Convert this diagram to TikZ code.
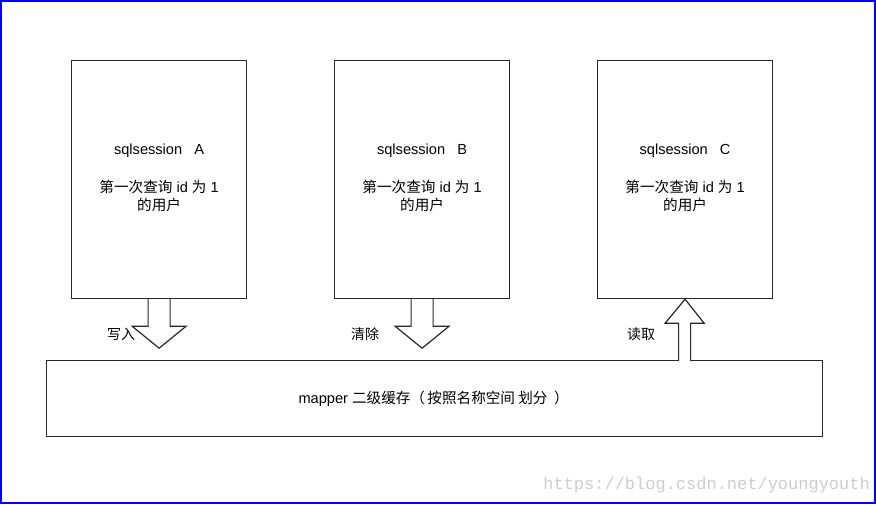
\documentclass[tikz,border=0pt]{standalone}
\usepackage{fontspec}
\setmainfont{Liberation Sans}
\setmonofont{Liberation Mono}
\newfontfamily\cjk{Noto Sans CJK SC}
\usetikzlibrary{calc}
\definecolor{boxline}{RGB}{40,40,40}
\definecolor{frameblue}{RGB}{0,0,255}
\definecolor{wm}{RGB}{205,205,205}
\tikzset{
  sess/.style={draw=boxline, line width=1.2pt, minimum width=175pt, minimum height=238pt, inner sep=0pt, anchor=north west},
  cache/.style={draw=boxline, line width=1.2pt, minimum width=776pt, minimum height=76pt, inner sep=0pt, anchor=north west},
  blk/.style={draw=boxline, line width=1.2pt, fill=white, line join=miter},
  lbl/.style={font=\fontsize{14}{16}\selectfont\cjk, inner sep=0pt},
  txt/.style={font=\fontsize{14.6}{18}\selectfont, align=center, inner sep=0pt}
}
\begin{document}
\begin{tikzpicture}[x=1pt,y=-1pt]
\useasboundingbox (0,0) rectangle (876,504);
\draw[frameblue, line width=2pt] (1,1) rectangle (875,503);
% session boxes
\node[sess] (A) at (71,60) {};
\node[sess] (B) at (334,60) {};
\node[sess] (C) at (597,60) {};
\node[cache] (M) at (46,360) {};
% texts
\foreach \n/\l in {A/A,B/B,C/C}{
  \node[txt] (\n t1) at ($(\n.north)+(0,91)$) {sqlsession\ \ \ \l};
  \node[txt] (\n t2) at ($(\n.north)+(0,136)$) {{\cjk 第一次查询} id {\cjk 为} 1\\{\cjk 的用户}};
}
\node[txt] (Mt) at ($(M.center)+(-1,0)$) {mapper {\cjk 二级缓存（\,按照名称空间 划分\ \ ）}};
% block arrows
\foreach \n in {A,B}{
\draw[blk] ($(\n.south)+(-11,0)$) -- ($(\n.south)+(-11,27)$) -- ($(\n.south)+(-27,27)$) -- ($(\n.south)+(0,49)$) -- ($(\n.south)+(27,27)$) -- ($(\n.south)+(11,27)$) -- ($(\n.south)+(11,0)$);
}
\draw[blk] ($(C.south)+(-6.5,62)$) -- ($(C.south)+(-6.5,24)$) -- ($(C.south)+(-20,24)$) -- ($(C.south)+(0,0)$) -- ($(C.south)+(19,24)$) -- ($(C.south)+(5.5,24)$) -- ($(C.south)+(5.5,62)$);
% labels
\node[lbl] (wa) at (121,334) {写入};
\node[lbl] (wb) at (365,334) {清除};
\node[lbl] (wc) at (641,334) {读取};
% watermark
\node[font=\fontsize{17}{19}\selectfont\ttfamily, text=wm, anchor=east, inner sep=0pt] (wmk) at (870,485) {https://blog.csdn.net/youngyouth};
\end{tikzpicture}
\end{document}
